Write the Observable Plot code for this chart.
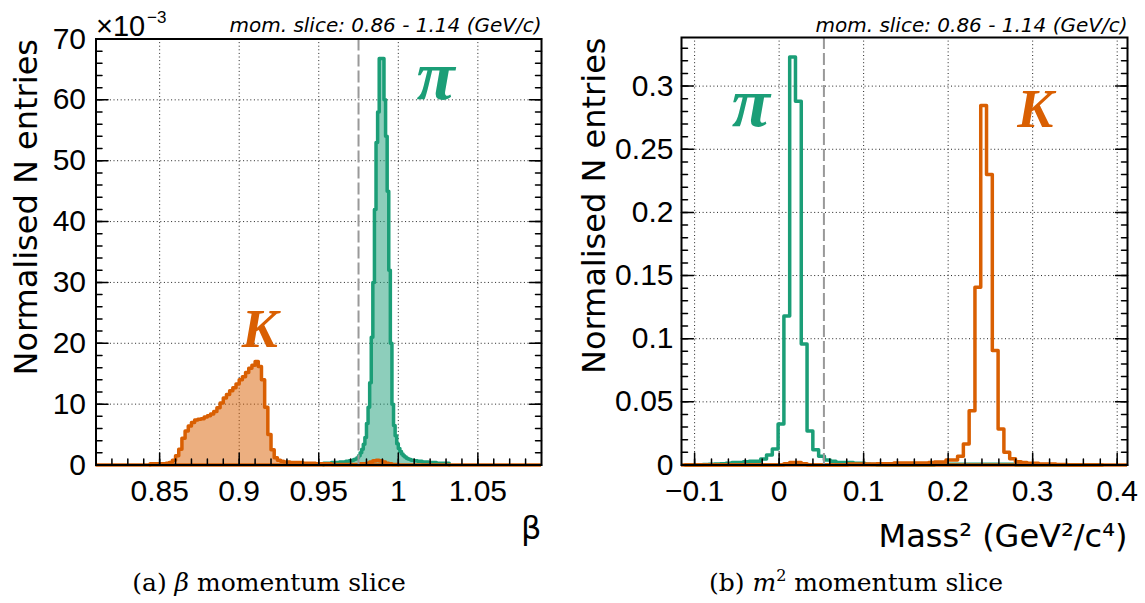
<!DOCTYPE html>
<html><head><meta charset="utf-8">
<script src="https://cdn.jsdelivr.net/npm/d3@7"></script>
<script src="https://cdn.jsdelivr.net/npm/@observablehq/plot@0.6"></script>
<style>
html,body{margin:0;padding:0;background:#fff;}
#wrap{position:relative;width:1145px;height:603px;overflow:hidden;background:#fff;}
#wrap svg{position:absolute;top:0;overflow:visible;}
.cap{position:absolute;top:568px;font-family:"DejaVu Serif",serif;font-size:25px;line-height:30px;white-space:nowrap;transform:translateX(-50%);color:#000;}
.cap i{font-style:italic;}
.cap sup{font-size:16px;line-height:0;vertical-align:10px;}
</style></head><body>
<div id="wrap"></div>
<script>
// ---------- panel (a): beta, values in units of 1e-3 ----------
const betaDomain = [0.81, 1.09];
const betaXTicks = [0.85, 0.9, 0.95, 1, 1.05];
const betaYTicks = [0, 10, 20, 30, 40, 50, 60, 70];
const betaCut = 0.975;
const betaKaonStart = 0.844, betaKaonBin = 0.002;
const betaKaon = [0.2,0.2,0.2,0.2,0.2,0.3,0.4,0.8,1.5,2.6,4.4,5.6,6.4,7.0,7.4,7.5,7.6,7.9,8.1,8.4,
  8.8,9.4,10.2,11.0,11.6,12.2,12.7,13.3,14.0,14.5,15.2,15.9,16.4,17.0,16.2,14.0,9.5,5.0,2.5,1.2,
  0.8,0.6,0.5,0.5,0.4,0.4,0.4,0.4,0.3,0.3,0.3,0.3,0.2,0.2,0.2,0.2,0.2,0.1,0.1,0.1,
  0.1,0.1,0.1,0.1,0.1,0.1,0.2,0.2,0.3,0.5,0.7,0.8,0.7,0.5,0.3,0.2,0.1,0.1];
const betaPionStart = 0.953, betaPionBin = 0.001;
const betaPion = [0.3,0.3,0.3,0.3,0.3,0.4,0.4,0.4,0.4,0.4,0.5,0.5,0.5,0.5,0.6,0.6,0.7,0.7,0.8,0.9,
  1.0,1.2,1.5,2.0,2.6,3.4,4.5,6.8,9.5,13.5,21.0,30.0,42.0,53.0,58.0,66.8,66.8,66.8,60.0,54.0,
  45.0,32.0,20.0,10.0,6.5,4.8,3.5,2.7,2.2,1.8,1.5,1.3,1.1,1.0,0.9,0.8,0.8,0.7,0.7,0.6,
  0.6,0.6,0.5,0.5,0.5,0.5,0.4,0.4,0.4,0.4,0.4,0.3,0.3,0.3,0.3,0.3,0.3,0.3,0.3];

// ---------- panel (b): mass squared ----------
const m2Domain = [-0.1155, 0.4122];
const m2XTicks = [-0.1, 0, 0.1, 0.2, 0.3, 0.4];
const m2YTicks = [0, 0.05, 0.1, 0.15, 0.2, 0.25, 0.3];
const m2YMax = 0.3385;
const m2Cut = 0.053;
const m2Start = -0.1108, m2Bin = 0.00685;
const m2Pion = [0,0,0,0.0003,0.0005,0.0007,0.001,0.0013,0.002,0.002,0.0025,0.003,0.003,0.0047,0.0079,0.0127,
  0.0325,0.118,0.323,0.288,0.0959,0.027,0.012,0.007,0.004,0.003,0.002,0.002,0.002,0.0013,0.0013,0.0005,0.0003,
  0,0,0,0,0,0,0,0,0,0,
  0.0006,0.0006,0.0006,0.0006,0.0006,0.0006,0.0006,0.0006,0.0006,0.0006,0.0006,0.0006,0.0006,0.0006,
  0,0,0,0,0,0,0,0,0,0,0,0,0,0,0];
const m2Kaon = [0,0,0,0,0,0,0,0,0,0,0,0,0,0,0,0,0,
  0.001,0.002,0.002,0.001,
  0,0,0,0,0,0,0,
  0.0007,0.0007,0.0007,0.0007,0.0007,
  0.001,0.001,0.001,
  0.0015,0.0015,0.0015,0.0015,0.0015,0.0015,
  0.002,0.0024,0.0024,0.004,0.004,0.007,0.0166,0.043,0.1407,0.2847,0.230,0.0906,0.0285,0.010,0.005,0.0025,
  0.002,0.0013,0.0013,0.0008,0.0008,0.0008,0.0003,0.0003,
  0,0,0,0,0,0];

const momText = "mom. slice: 0.86 - 1.14 (GeV/c)";
const GREEN = "#1b9e77", ORANGE = "#d95f02";

function stepPoints(start, w, vals) {
  const pts = [{x: start, y: 0}];
  vals.forEach((v, i) => pts.push({x: start + i * w, y: v}));
  pts.push({x: start + vals.length * w, y: vals[vals.length - 1]});
  pts.push({x: start + vals.length * w, y: 0});
  return pts;
}
const fmt = d => d < 0 ? "\u2212" + String(-d) : String(d);
const tickShape = {draw(ctx, l) { ctx.moveTo(0, 0); ctx.lineTo(0, -l); }};
const rangeStep = (a, b, s) => d3.range(Math.round((b - a) / s) + 1).map(i => +(a + i * s).toFixed(6));

function tickMarks(xMajor, xMinor, yMajor, yMinor) {
  const o = {shape: tickShape, anchor: "start", stroke: "#000", strokeWidth: 1.5};
  return [
    Plot.vector(xMajor, {...o, x: d => d, frameAnchor: "bottom", rotate: 0, length: 12}),
    Plot.vector(xMinor, {...o, x: d => d, frameAnchor: "bottom", rotate: 0, length: 6}),
    Plot.vector(yMajor, {...o, y: d => d, frameAnchor: "left", rotate: 90, length: 12}),
    Plot.vector(yMinor, {...o, y: d => d, frameAnchor: "left", rotate: 90, length: 6}),
    Plot.vector(yMajor, {...o, y: d => d, frameAnchor: "right", rotate: -90, length: 12}),
    Plot.vector(yMinor, {...o, y: d => d, frameAnchor: "right", rotate: -90, length: 6})
  ];
}
const gridStyle = {stroke: "#222", strokeWidth: 1, strokeDasharray: "1,2.6"};
const titleFont = "DejaVu Sans, sans-serif";
const labelFont = "Liberation Serif, serif";
const LW = 3.5;

const pionB = stepPoints(betaPionStart, betaPionBin, betaPion);
const kaonB = stepPoints(betaKaonStart, betaKaonBin, betaKaon);

const left = Plot.plot({
  width: 572, height: 548,
  marginLeft: 95.5, marginRight: 31, marginTop: 38.5, marginBottom: 83.5,
  style: {fontFamily: "Liberation Sans, Arial, sans-serif", fontSize: "30px", color: "#000", background: "transparent", overflow: "visible"},
  x: {domain: betaDomain, ticks: betaXTicks, tickSize: 0, tickPadding: 15, tickFormat: fmt, label: null},
  y: {domain: [0, 70], ticks: betaYTicks, tickSize: 0, tickPadding: 10, tickFormat: fmt, label: null},
  marks: [
    Plot.ruleX(betaXTicks, gridStyle),
    Plot.ruleY(betaYTicks.filter(d => d > 0 && d < 70), gridStyle),
    Plot.areaY(pionB, {x: "x", y: "y", curve: "step-after", fill: GREEN, fillOpacity: 0.5}),
    Plot.line(pionB, {x: "x", y: "y", curve: "step-after", stroke: GREEN, strokeWidth: LW}),
    Plot.areaY(kaonB, {x: "x", y: "y", curve: "step-after", fill: ORANGE, fillOpacity: 0.5}),
    Plot.line(kaonB, {x: "x", y: "y", curve: "step-after", stroke: ORANGE, strokeWidth: LW}),
    Plot.ruleY([0], {stroke: ORANGE, strokeWidth: LW}),
    Plot.ruleX([betaCut], {stroke: "#999", strokeWidth: 2, strokeDasharray: "12,4"}),
    ...tickMarks(betaXTicks, rangeStep(0.82, 1.08, 0.01), betaYTicks, rangeStep(0, 70, 2)),
    Plot.text(["\u03c0"], {x: 1.0234, y: 60.2, lineAnchor: "bottom", fill: GREEN, fontFamily: labelFont, fontWeight: "bold", fontStyle: "italic", fontSize: 70}),
    Plot.text(["K"], {x: 0.913, y: 19.4, lineAnchor: "bottom", fill: ORANGE, fontFamily: labelFont, fontWeight: "bold", fontStyle: "italic", fontSize: 54}),
    Plot.text([momText], {frameAnchor: "top-right", dy: -7.5, textAnchor: "end", lineAnchor: "bottom", fontFamily: titleFont, fontStyle: "italic", fontSize: 20}),
    Plot.text(["\u00d710"], {frameAnchor: "top-left", dy: -3.5, textAnchor: "start", lineAnchor: "bottom", fontSize: 29}),
    Plot.text(["\u22123"], {frameAnchor: "top-left", dx: 51, dy: -16.5, textAnchor: "start", lineAnchor: "bottom", fontSize: 17}),
    Plot.text(["Normalised N entries"], {frameAnchor: "top-left", dx: -69.5, rotate: -90, textAnchor: "end", lineAnchor: "middle", fontFamily: titleFont, fontSize: 32}),
    Plot.text(["\u03b2"], {frameAnchor: "bottom-right", dy: 74, textAnchor: "end", lineAnchor: "bottom", fontFamily: titleFont, fontSize: 32}),
    Plot.frame({stroke: "#000", strokeWidth: 2})
  ]
});
left.style.left = "0px";

const pionM = stepPoints(m2Start, m2Bin, m2Pion);
const kaonM = stepPoints(m2Start, m2Bin, m2Kaon);

const right = Plot.plot({
  width: 573, height: 548,
  marginLeft: 109, marginRight: 18, marginTop: 37, marginBottom: 83.5,
  style: {fontFamily: "Liberation Sans, Arial, sans-serif", fontSize: "30px", color: "#000", background: "transparent", overflow: "visible"},
  x: {domain: m2Domain, ticks: m2XTicks, tickSize: 0, tickPadding: 15, tickFormat: fmt, label: null},
  y: {domain: [0, m2YMax], ticks: m2YTicks, tickSize: 0, tickPadding: 8, tickFormat: fmt, label: null},
  marks: [
    Plot.ruleX(m2XTicks, gridStyle),
    Plot.ruleY(m2YTicks.filter(d => d > 0), gridStyle),
    Plot.line(pionM, {x: "x", y: "y", curve: "step-after", stroke: GREEN, strokeWidth: LW}),
    Plot.line(kaonM, {x: "x", y: "y", curve: "step-after", stroke: ORANGE, strokeWidth: LW}),
    Plot.ruleY([0], {stroke: ORANGE, strokeWidth: LW}),
    Plot.ruleX([m2Cut], {stroke: "#999", strokeWidth: 2, strokeDasharray: "12,4"}),
    ...tickMarks(m2XTicks, rangeStep(-0.1, 0.4, 0.02), m2YTicks, rangeStep(0, 0.33, 0.01)),
    Plot.text(["\u03c0"], {x: -0.0333, y: 0.2688, lineAnchor: "bottom", fill: GREEN, fontFamily: labelFont, fontWeight: "bold", fontStyle: "italic", fontSize: 70}),
    Plot.text(["K"], {x: 0.3032, y: 0.2675, lineAnchor: "bottom", fill: ORANGE, fontFamily: labelFont, fontWeight: "bold", fontStyle: "italic", fontSize: 54}),
    Plot.text([momText], {frameAnchor: "top-right", dy: -6, textAnchor: "end", lineAnchor: "bottom", fontFamily: titleFont, fontStyle: "italic", fontSize: 20}),
    Plot.text(["Normalised N entries"], {frameAnchor: "top-left", dx: -87, rotate: -90, textAnchor: "end", lineAnchor: "middle", fontFamily: titleFont, fontSize: 32}),
    Plot.text(["Mass\u00b2 (GeV\u00b2/c\u2074)"], {frameAnchor: "bottom-right", dy: 82, textAnchor: "end", lineAnchor: "bottom", fontFamily: titleFont, fontSize: 32}),
    Plot.frame({stroke: "#000", strokeWidth: 2})
  ]
});
right.style.left = "572px";

const wrap = document.getElementById("wrap");
wrap.appendChild(left);
wrap.appendChild(right);

const capA = document.createElement("div");
capA.className = "cap"; capA.style.left = "269px";
capA.innerHTML = "(a) <i>\u03b2</i> momentum slice";
const capB = document.createElement("div");
capB.className = "cap"; capB.style.left = "856px";
capB.innerHTML = "(b) <i>m</i><sup>2</sup> momentum slice";
wrap.appendChild(capA);
wrap.appendChild(capB);
</script>
</body></html>
